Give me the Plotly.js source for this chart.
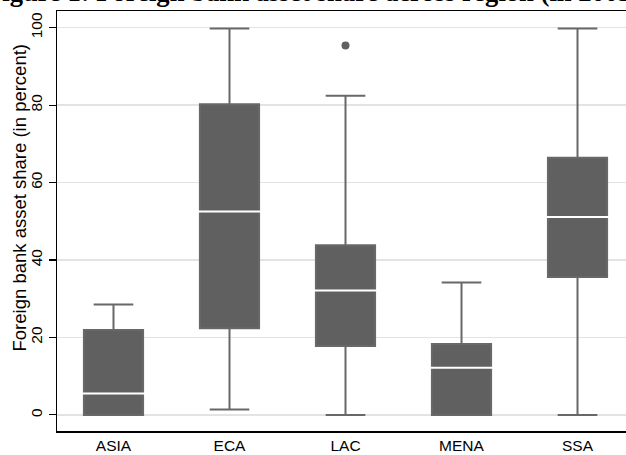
<!DOCTYPE html>
<html>
<head>
<meta charset="utf-8">
<script src="https://cdn.plot.ly/plotly-3.0.1.min.js"></script>
<style>html,body{margin:0;padding:0;background:#fff;}#chart{width:626px;height:455px;}</style>
</head>
<body>
<div id="chart"></div>
<script>
const categories = ['ASIA', 'ECA', 'LAC', 'MENA', 'SSA'];
const lowerWhisker = [0, 1.4, 0, 0, 0];
const q1 = [0, 22.4, 17.8, 0, 35.6];
const median = [5.5, 52.5, 32.1, 12.2, 51.1];
const q3 = [21.9, 80.2, 43.8, 18.3, 66.4];
const upperWhisker = [28.5, 99.8, 82.4, 34.2, 99.8];
const outlierCategory = ['LAC'];
const outlierValue = [95.4];
const yTicks = [0, 20, 40, 60, 80, 100];

const boxColor = '#606060';

const traces = [
  {
    type: 'box',
    x: categories,
    q1: q1,
    median: median,
    q3: q3,
    lowerfence: lowerWhisker,
    upperfence: upperWhisker,
    boxpoints: false,
    width: 0.51,
    whiskerwidth: 0.67,
    fillcolor: boxColor,
    line: {color: '#686868', width: 2},
    hoverinfo: 'skip',
    showlegend: false
  },
  {
    type: 'scatter',
    mode: 'markers',
    x: categories,
    y: median,
    marker: {symbol: 'line-ew', size: 57, color: '#ffffff', line: {color: '#ffffff', width: 2}},
    hoverinfo: 'skip',
    showlegend: false
  },
  {
    type: 'scatter',
    mode: 'markers',
    x: outlierCategory,
    y: outlierValue,
    marker: {symbol: 'circle', size: 8, color: boxColor},
    hoverinfo: 'skip',
    showlegend: false
  }
];

const layout = {
  width: 626,
  height: 455,
  margin: {l: 57, r: 0, t: 11, b: 24, pad: 0},
  paper_bgcolor: '#ffffff',
  plot_bgcolor: '#ffffff',
  font: {family: '"Liberation Sans", Arial, sans-serif', size: 15, color: '#000'},
  xaxis: {
    type: 'category',
    range: [-0.487, 4.418],
    showgrid: false,
    zeroline: false,
    showline: true,
    linecolor: '#000',
    linewidth: 1.5,
    mirror: true,
    ticks: '',
    tickfont: {size: 15.5},
    fixedrange: true
  },
  yaxis: {
    range: [-4.16, 104.3],
    tickvals: yTicks,
    ticktext: yTicks.map(String),
    tickangle: -90,
    ticks: 'outside',
    ticklen: 7,
    tickwidth: 1.2,
    tickcolor: '#000',
    tickfont: {size: 15.5},
    ticklabelstandoff: 0,
    showline: true,
    linecolor: '#000',
    linewidth: 1.5,
    showgrid: true,
    gridcolor: '#e3e3e3',
    gridwidth: 1.5,
    zeroline: false,
    fixedrange: true
  },
  annotations: [
    {
      text: '<b>Figure 1: Foreign bank asset share across region (in 2005)</b>',
      xref: 'paper', yref: 'paper',
      x: -0.128, y: 1.0,
      xanchor: 'left', yanchor: 'bottom',
      yshift: 2,
      showarrow: false,
      font: {family: '"Liberation Serif", "Times New Roman", serif', size: 26.6, color: '#000'}
    },
    {
      text: 'Foreign bank asset share (in percent)',
      xref: 'paper', yref: 'paper',
      x: -0.0668, y: 0.556,
      xanchor: 'center', yanchor: 'middle',
      textangle: -90,
      showarrow: false,
      font: {family: '"Liberation Sans", Arial, sans-serif', size: 18.5, color: '#000'}
    }
  ]
};

Plotly.newPlot('chart', traces, layout, {displayModeBar: false, staticPlot: true});
</script>
</body>
</html>
